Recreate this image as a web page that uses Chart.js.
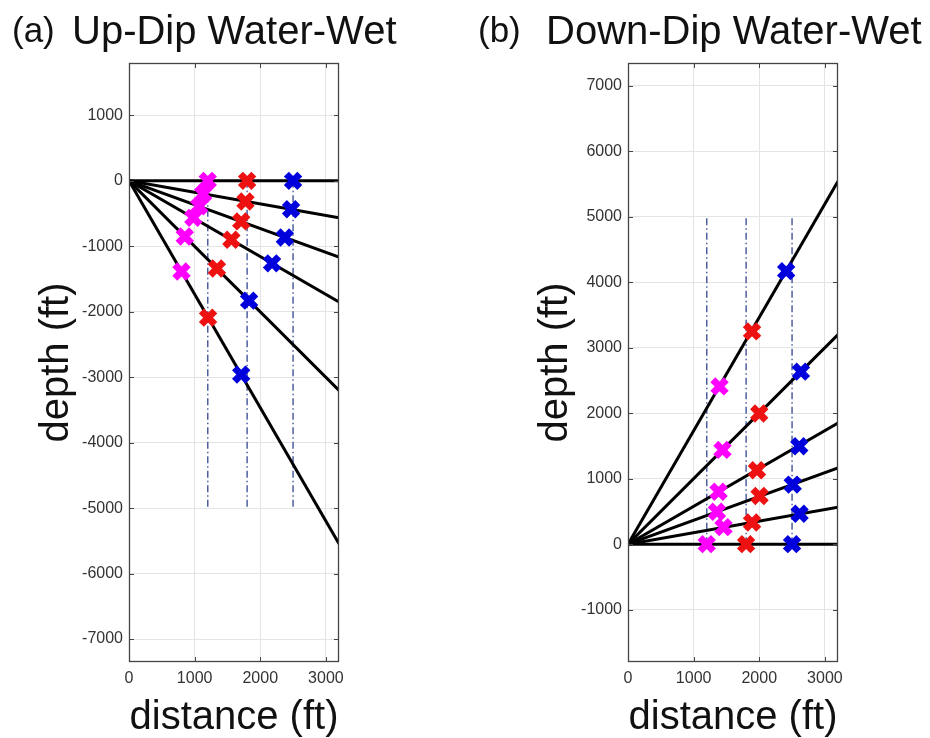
<!DOCTYPE html>
<html>
<head>
<meta charset="utf-8">
<title>Up-Dip / Down-Dip Water-Wet</title>
<script src="https://cdn.jsdelivr.net/npm/chart.js@4.4.1/dist/chart.umd.min.js"></script>
<style>
  body { margin: 0; background: #fff; font-family: 'Liberation Sans', Arial, sans-serif; }
  #wrap { position: relative; width: 930px; height: 738px; }
  .panel { position: absolute; top: 0; width: 465px; height: 738px; }
  .title { position: absolute; top: 10px; font-size: 40px; line-height: 40px; color: #111; white-space: pre; }
  .tag { font-size: 35px; }
</style>
</head>
<body>
<div id="wrap">
  <div class="panel" style="left:0"><canvas id="chartA"></canvas></div>
  <div class="panel" style="left:465px"><canvas id="chartB"></canvas></div>
  <div class="title tag" style="left:12px">(a)</div>
  <div class="title" style="left:72px">Up-Dip Water-Wet</div>
  <div class="title tag" style="left:478px">(b)</div>
  <div class="title" style="left:546px">Down-Dip Water-Wet</div>
</div>
<script>
// dipping layers at 0, 10, 20, 30, 45, 60 deg, drawn from the origin to x = 3200 ft
const lineEndX = 3200;
const upDipLineEnd = [0, -565, -1165, -1850, -3200, -5545];
const downDipLineEnd = [0, 565, 1165, 1850, 3200, 5545];

// wells (dash-dot verticals)
const wellX = [1200, 1800, 2500];
const wellBottomA = -5000;
const wellBottomB = 5000;

// markers, one per layer (0 .. 60 deg)
const upMagentaX = [1200, 1130, 1070, 980, 850, 800];
const upMagentaY = [0, -200, -390, -565, -850, -1385];
const upRedX = [1800, 1775, 1710, 1560, 1340, 1205];
const upRedY = [0, -315, -620, -900, -1340, -2090];
const upBlueX = [2500, 2470, 2375, 2180, 1830, 1710];
const upBlueY = [0, -435, -865, -1260, -1830, -2960];

const downMagentaX = [1200, 1455, 1355, 1380, 1440, 1395];
const downMagentaY = [0, 260, 495, 800, 1440, 2410];
const downRedX = [1800, 1890, 2005, 1965, 2000, 1890];
const downRedY = [0, 330, 735, 1130, 1995, 3250];
const downBlueX = [2500, 2615, 2510, 2610, 2635, 2410];
const downBlueY = [0, 465, 910, 1495, 2635, 4170];

// axis ticks
const xTicks = [0, 1000, 2000, 3000];
const yTicksA = [-7000, -6000, -5000, -4000, -3000, -2000, -1000, 0, 1000];
const yTicksB = [-1000, 0, 1000, 2000, 3000, 4000, 5000, 6000, 7000];

const colors = {
    magenta: '#ff00ff',
    red: '#ee1111',
    blue: '#0000dd',
    well: '#4f5fa0',
    grid: '#e4e4e4',
    frame: '#444',
};

const FONT = "'Liberation Sans', Arial, sans-serif";

function toPoints(xs, ys) {
    return xs.map((x, i) => ({ x: x, y: ys[i] }));
}

function markerSet(xs, ys, color) {
    return {
        data: toPoints(xs, ys),
        showLine: false,
        pointStyle: 'crossRot',
        pointRadius: 9.5,
        pointBorderWidth: 7,
        borderColor: color,
        backgroundColor: color,
        order: 0,
    };
}

function lineSets(ends, wellBottom) {
    const sets = ends.map((yEnd) => ({
        data: [{ x: 0, y: 0 }, { x: lineEndX, y: yEnd }],
        showLine: true,
        borderColor: '#000',
        borderWidth: 3,
        pointRadius: 0,
        order: 1,
    }));
    wellX.forEach((x) => {
        sets.push({
            data: [{ x: x, y: 0 }, { x: x, y: wellBottom }],
            showLine: true,
            borderColor: colors.well,
            borderWidth: 1.5,
            borderDash: [7, 3, 1.5, 3],
            pointRadius: 0,
            order: 2,
        });
    });
    return sets;
}

// matlab style box with inward ticks on all four sides
const matlabBox = {
    id: 'matlabBox',
    afterDatasetsDraw(chart) {
        const { ctx, chartArea: a, scales } = chart;
        ctx.save();
        ctx.strokeStyle = colors.frame;
        ctx.lineWidth = 1;
        ctx.beginPath();
        scales.x.ticks.forEach((t) => {
            const px = Math.round(scales.x.getPixelForValue(t.value)) + 0.5;
            ctx.moveTo(px, a.top); ctx.lineTo(px, a.top + 5);
            ctx.moveTo(px, a.bottom); ctx.lineTo(px, a.bottom - 5);
        });
        scales.y.ticks.forEach((t) => {
            const py = Math.round(scales.y.getPixelForValue(t.value)) + 0.5;
            ctx.moveTo(a.left, py); ctx.lineTo(a.left + 5, py);
            ctx.moveTo(a.right, py); ctx.lineTo(a.right - 5, py);
        });
        ctx.stroke();
        ctx.lineWidth = 1.3;
        ctx.strokeRect(a.left + 0.5, a.top + 0.5, a.right - a.left - 1, a.bottom - a.top - 1);
        ctx.restore();
    },
};

function fixedTicks(values) {
    return (scale) => { scale.ticks = values.map((v) => ({ value: v })); };
}

function makeChart(id, cfg) {
    return new Chart(document.getElementById(id), {
        type: 'scatter',
        data: { datasets: cfg.datasets },
        plugins: [matlabBox],
        options: {
            responsive: true,
            maintainAspectRatio: false,
            animation: false,
            layout: { padding: { top: 63, right: cfg.padRight, bottom: 0, left: 0 } },
            plugins: { legend: { display: false }, tooltip: { enabled: false } },
            scales: {
                x: {
                    min: 0,
                    max: 3200,
                    afterBuildTicks: fixedTicks(xTicks),
                    afterFit: (scale) => { scale.height = 76; },
                    ticks: {
                        padding: 7,
                        autoSkip: false,
                        maxRotation: 0,
                        color: '#333',
                        font: { family: FONT, size: 16 },
                        callback: (v) => String(v),
                    },
                    grid: { color: colors.grid, drawTicks: false },
                    border: { display: false },
                    title: {
                        display: true,
                        text: 'distance (ft)',
                        color: '#111',
                        font: { family: FONT, size: 40, lineHeight: 1.0 },
                        padding: { top: 0, bottom: 0 },
                    },
                },
                y: {
                    min: cfg.yMin,
                    max: cfg.yMax,
                    afterBuildTicks: fixedTicks(cfg.yTicks),
                    afterFit: (scale) => { scale.width = cfg.yWidth; },
                    ticks: {
                        padding: 6,
                        autoSkip: false,
                        color: '#333',
                        font: { family: FONT, size: 16 },
                        callback: (v) => String(v),
                    },
                    grid: { color: colors.grid, drawTicks: false },
                    border: { display: false },
                    title: {
                        display: true,
                        text: 'depth (ft)',
                        color: '#111',
                        font: { family: FONT, size: 40, lineHeight: 1.2 },
                        padding: { top: cfg.yTitlePad, bottom: 0 },
                    },
                },
            },
        },
    });
}

makeChart('chartA', {
    yMin: -7350,
    yMax: 1800,
    yTicks: yTicksA,
    yWidth: 129,
    padRight: 126,
    yTitlePad: 33,
    datasets: [
        markerSet(upMagentaX, upMagentaY, colors.magenta),
        markerSet(upRedX, upRedY, colors.red),
        markerSet(upBlueX, upBlueY, colors.blue),
    ].concat(lineSets(upDipLineEnd, wellBottomA)),
});

makeChart('chartB', {
    yMin: -1800,
    yMax: 7350,
    yTicks: yTicksB,
    yWidth: 163,
    padRight: 92,
    yTitlePad: 67,
    datasets: [
        markerSet(downMagentaX, downMagentaY, colors.magenta),
        markerSet(downRedX, downRedY, colors.red),
        markerSet(downBlueX, downBlueY, colors.blue),
    ].concat(lineSets(downDipLineEnd, wellBottomB)),
});
</script>
</body>
</html>
